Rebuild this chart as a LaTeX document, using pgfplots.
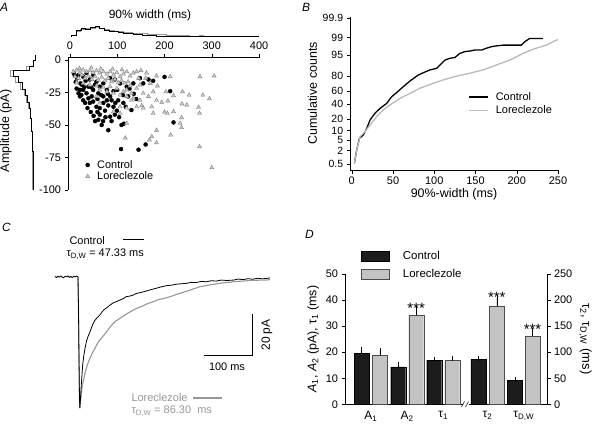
\documentclass[border=0pt]{standalone}
\usepackage{fontspec}
\setmainfont{Liberation Sans}
\usepackage{pgfplots}
\pgfplotsset{compat=1.18}
\definecolor{lgray}{RGB}{185,185,185}
\definecolor{mgray}{RGB}{150,150,150}
\definecolor{barg}{RGB}{195,195,195}
\definecolor{barb}{RGB}{28,28,28}
\definecolor{trif}{RGB}{205,205,205}
\definecolor{trie}{RGB}{130,130,130}
\pgfplotsset{every axis/.append style={scale only axis,
  /pgf/number format/assume math mode=true,
  tick style={line width=0.5pt,black}, axis line style={line width=0.6pt},
  major tick length=3.5bp,
  label style={font=\fontsize{12.5}{14}\selectfont},
  tick label style={font=\fontsize{11}{13}\selectfont}}}
\begin{document}
\begin{tikzpicture}[font=\fontsize{11}{13}\selectfont]
\useasboundingbox (0,0) rectangle (595bp,-424bp);
% ---------------- Panel A ----------------
\node[anchor=base west,inner sep=0,font=\itshape\fontsize{12}{14}\selectfont] at (0bp,-11bp) {A};
\node[font=\fontsize{12}{14}\selectfont] at (150bp,-15bp) {90\% width (ms)};
\node[rotate=90,font=\fontsize{12.5}{14}\selectfont] at (6bp,-131bp) {Amplitude (pA)};
% top histogram
\begin{axis}[at={(68.1bp,-36.7bp)}, anchor=south west, width=191.9bp, height=12bp,
  xmin=-4, xmax=402, ymin=0, ymax=12, hide axis, clip=false]
\addplot[const plot, color=mgray, line width=0.8pt] coordinates {
(3,0) (3,1.2) (13,5) (23,7.5) (33,8.5) (43,8.5) (53,9) (63,8) (73,7) (83,6.3) (93,5.8) (103,5.2) (113,4.7) (123,4.2) (133,3.8) (143,3.5) (153,3.1) (163,2.7) (173,2.5) (183,2.1) (193,1.9) (203,1.6) (213,1.4) (223,1.2) (233,1.6) (243,1) (253,0.8) (263,0.7) (273,1.2) (283,0.6) (293,0.4) (303,0.2) (313,0) (400,0)};
\addplot[const plot, black, line width=0.7pt] coordinates {
(3,0) (3,1.7) (13,6.7) (23,8.3) (33,7.7) (43,9) (53,10.7) (63,8.3) (73,6.5) (83,5.5) (93,5) (103,4.3) (113,3.8) (123,3) (133,2.5) (143,2) (153,1.6) (163,1.2) (173,1) (183,0.8) (203,0.5) (223,0.3) (243,0.1) (263,0) (400,0)};
\end{axis}
% left histogram
\begin{axis}[at={(35bp,-190bp)}, anchor=south east, width=30bp, height=133bp,
  xmin=0, xmax=30, x dir=reverse, ymin=-100, ymax=2.3, hide axis, clip=false]
\addplot[color=mgray, line width=0.8pt] coordinates {
(0,4) (0,0) (2,0) (2,-5) (9,-5) (9,-8) (25,-8) (25,-12.5) (20,-12.5) (20,-17.5) (15,-17.5) (15,-22.5) (11,-22.5) (11,-27.5) (8.5,-27.5) (8.5,-32.5) (6.5,-32.5) (6.5,-37.5) (5,-37.5) (5,-45) (4,-45) (4,-55) (3,-55) (3,-70) (2.2,-70) (2.2,-100)};
\addplot[black, line width=0.7pt] coordinates {
(0,4) (0,0) (1.5,0) (1.5,-5) (6,-5) (6,-8) (22,-8) (22,-12.5) (17,-12.5) (17,-17.5) (13,-17.5) (13,-22.5) (10,-22.5) (10,-27.5) (7.5,-27.5) (7.5,-32.5) (6,-32.5) (6,-37.5) (4.5,-37.5) (4.5,-45) (3.5,-45) (3.5,-55) (2.5,-55) (2.5,-70) (1.8,-70) (1.8,-100)};
\end{axis}
% scatter
\begin{axis}[at={(68.1bp,-190bp)}, anchor=south west, width=191.9bp, height=133bp,
  xmin=-4, xmax=402, ymin=-100, ymax=2.3,
  axis x line*=top, axis y line*=left, tick align=outside,
  xtick={0,100,200,300,400}, ytick={-100,-75,-50,-25,0},
  legend style={draw=none, fill=none, at={(0.088,0.24)}, anchor=north west,
    font=\fontsize{11}{13}\selectfont, row sep=-2bp, inner sep=0pt, cells={anchor=west}},
  legend image code/.code={\path[draw=none,fill=none] (0bp,0bp) -- (10bp,0bp);\draw[mark repeat=2,mark phase=2,#1] plot coordinates {(0bp,0bp) (2.5bp,0bp) (5bp,0bp)};},
  clip=false]
\addplot[only marks, mark=*, mark size=2bp, mark options={fill=black, draw=black}] coordinates {
(10,-12) (14,-22) (18,-25.6) (21,-28) (25,-19) (28,-31) (32,-33) (35,-25.6) (39,-20.5) (42,-33)
(46,-28) (49,-23) (53,-47) (56,-36) (60,-46) (63,-42) (63,-37) (70,-47) (70.5,-33) (78,-31)
(81,-35) (85,-43.6) (92,-36) (95,-42) (99,-39) (109,-50) (114,-49) (130,-38.5) (135,-26) (176,-16)
(200,-13) (212,-24) (219,-48) (81,-54) (108,-68.5) (145,-69) (160,-65) (21,-23) (35,-10) (60,-25.6)
(70.5,-28) (85,-28) (92,-24) (102,-31) (113,-33) (123,-28) (134,-18) (148,-14) (155,-18) (166,-15)
(120,-20.5) (106,-18) (95,-15) (85,-14) (70.5,-18) (56,-16.7) (42,-15) (28,-12.8) (18,-11.5) (49,-11.5)
(63,-20.5) (78,-23) (53,-19) (28,-23) (39,-29.5) (49,-32) (88,-31) (12,-17) (24,-27) (30,-21)
(37,-37) (44,-40) (50,-43) (58,-30) (66,-27) (74,-39) (80,-26) (88,-47) (104,-44) (118,-36)
(126,-22) (140,-30) (45,-21) (33,-16) (67,-50) (96,-33) (8,-10) (15,-14) (22,-18) (58,-40)
(75,-44) (100,-23) (112,-27)};
\addlegendentry{Control}
\addplot[only marks, mark=triangle*, mark size=2.4bp, mark options={fill=trif, draw=trie, line width=0.4pt}] coordinates {
(7,-9) (14,-7.7) (21,-10) (28,-7.7) (35,-9) (42,-8.2) (49,-9.7) (56,-8.2) (63,-10) (70.5,-9)
(78,-10.8) (85,-9) (92,-11.5) (99,-9.7) (106,-12.8) (113,-10.8) (120,-9) (127,-12.3) (10.6,-12.8) (18,-14)
(25,-11.5) (32,-14) (39,-12.3) (46,-14.9) (53,-12.8) (60,-15.4) (67,-13.3) (74,-15.9) (81,-14) (88,-16.7)
(95,-14.9) (102,-17.4) (109,-15.9) (116,-17.9) (123,-16.7) (14,-17.4) (28,-17.9) (42,-19.2) (56,-20) (70.5,-21)
(85,-20.5) (99,-21.8) (113,-24.4) (106,-27) (92,-25.6) (78,-24.4) (63,-23) (120,-28) (134,-29.5) (141,-21.8)
(148,-19.2) (127,-20) (134,-10) (141,-9) (162,-10) (183,-12.3) (212,-12.8) (275,-12.8) (305,-12.3)
(203,-24.4) (238,-24.4) (219,-27.4) (252,-27) (281,-27) (295,-29.8) (194,-32.5) (207,-31.5) (237,-33.8) (247,-34.6)
(272,-36.4) (274,-41) (200,-40) (206,-41) (219,-39.7) (236,-44.4) (233,-48.7) (236,-52) (213,-57.7) (274,-66.7)
(300,-82.8) (176,-41) (155,-37) (141,-36) (120,-37) (106,-36) (130,-31) (148,-31) (166,-28) (183,-31)
(152,-35) (173,-36) (120,-23) (130,-25.6) (155,-25.6) (176,-24.4) (120,-48.7) (183,-54) (173,-59) (168,-61.5)
(117,-60) (183,-63.6) (106,-41) (92,-39.7) (63,-33) (56,-28) (20,-6.5) (45,-6) (65,-6.8) (90,-7)
(110,-7.5) (150,-8) (160,-14) (170,-18) (185,-20) (145,-14)};
\addlegendentry{Loreclezole}
\end{axis}
% ---------------- Panel B ----------------
\node[anchor=base west,inner sep=0,font=\itshape\fontsize{12}{14}\selectfont] at (302bp,-11bp) {B};
\begin{axis}[at={(350.1bp,-170bp)}, anchor=south west, width=207.9bp, height=153bp,
  xmin=-2, xmax=250, ymin=-2.81, ymax=3.12,
  axis x line*=bottom, axis y line*=left, tick align=outside,
  xtick={0,50,100,150,200,250},
  ytick={-2.5758,-2.0537,-1.6449,-1.2816,-0.8416,-0.2533,0.2533,0.8416,1.6449,2.3263,3.0902},
  yticklabels={0.5,2,5,10,20,40,60,80,95,99,99.9},
  y tick label style={font=\fontsize{10.5}{12}\selectfont},
  xlabel={90\%-width (ms)}, ylabel={Cumulative counts},
  xlabel style={yshift=3bp}, ylabel style={yshift=-1bp},
  legend style={draw=none, fill=none, at={(0.567,0.523)}, anchor=north west,
    font=\fontsize{11}{13}\selectfont, row sep=0bp, inner sep=0pt, cells={anchor=west}},
  legend image code/.code={\path[draw=none] (0bp,0bp) -- (25bp,0bp);\draw[#1] (0bp,0bp) -- (19bp,0bp);},
  clip=false]
\addplot[black, line width=1.3pt] coordinates {
(3.2,-2.55) (6,-2.03) (9.3,-1.58) (14.1,-1.45) (18.1,-1.2) (22.2,-0.87) (28.2,-0.61) (34.3,-0.42) (42.3,-0.23) (48.4,0.03) (54.4,0.19) (62.5,0.42) (70.6,0.64) (80.6,0.87) (86.7,0.96) (94.8,1.07) (102.8,1.13) (106.9,1.26) (112.9,1.45) (119,1.52) (125,1.55) (131,1.71) (137.1,1.78) (143.1,1.8) (149.2,1.84) (157.3,1.84) (163.3,1.91) (169.4,1.97) (175.4,2.0) (183.5,2.03) (205.6,2.03) (209.7,2.16) (215.7,2.29) (231.8,2.29)};
\addlegendentry{Control}
\addplot[lgray, line width=1.3pt] coordinates {
(3.2,-2.55) (6,-2.03) (10.1,-1.52) (16.1,-1.32) (22.2,-1.07) (30.2,-0.74) (38.3,-0.48) (46.4,-0.29) (58.5,-0.03) (70.6,0.16) (82.7,0.36) (98.8,0.55) (110.9,0.68) (127,0.83) (143.1,0.94) (159.3,1.07) (175.4,1.26) (191.5,1.45) (207.6,1.71) (219.7,1.87) (235.9,2.03) (243.9,2.16) (250,2.25)};
\addlegendentry{Loreclezole}
\end{axis}
% ---------------- Panel C ----------------
\node[anchor=base west,inner sep=0,font=\itshape\fontsize{12}{14}\selectfont] at (2bp,-231bp) {C};
\begin{axis}[at={(54bp,-412.3bp)}, anchor=south west, width=216bp, height=139.4bp,
  xmin=-50, xmax=400, ymin=-66, ymax=2, hide axis, clip=false]
\addplot[mgray, line width=1.1pt] coordinates {
(0,0) (1,-15) (2,-38) (3,-58) (3.8,-64) (5,-61) (7,-57) (9,-53) (11,-51) (15,-46.5) (19.4,-42.9) (25,-39.5) (30,-37) (35.4,-34.8) (42,-31.8) (50,-29.5) (59.7,-26.7) (68,-24) (77,-21.8) (87,-20.2) (97.9,-18.5) (110,-16.8) (122,-15.3) (133,-14.3) (145,-13) (157,-12) (168,-11) (180,-10.4) (192,-9.6) (205,-8.5) (215,-7.8) (223,-7.2) (232,-6.5) (243,-5.6) (254,-4.7) (265,-4.3) (275,-3.8) (282,-3.6) (292,-3.2) (303,-2.8) (314,-2.6) (324,-2.3) (336,-2.1) (348,-1.9) (360,-1.7) (372,-1.6) (383,-1.5) (393,-1.5) (400,-1.2)};
\addplot[black, line width=0.8pt] coordinates {
(-48,0.3) (-45,-0.3) (-42,0.4) (-39,-0.1) (-36,0.5) (-33,0) (-30,-0.4) (-27,0.3) (-24,0.1) (-21,0.5) (-18,-0.2) (-15,0.3) (-12,-0.3) (-9,0.4) (-6,0) (-3,0.5) (-1,0.2) (0,0) (1,-15) (2,-38) (3,-58) (3.8,-64) (5,-60) (7,-52) (9.7,-43) (12,-38.5) (14.6,-34.8) (18,-31) (21,-29) (25,-26.7) (30,-23.5) (35,-21.2) (40,-19.8) (45.8,-18.5) (50,-17) (55,-15.8) (60,-15) (66.7,-13.7) (72,-12.8) (80,-12) (87.5,-11.2) (95,-10.5) (100,-9.6) (108,-9.3) (115,-8.8) (122,-8) (130,-7.6) (140,-7) (150,-6.3) (158,-5.8) (166,-5.3) (175,-4.7) (185,-4.2) (195,-4) (205,-3.5) (215,-3.3) (226,-3.1) (236,-2.6) (246,-2.7) (256,-2.2) (268,-2.3) (278,-1.8) (288,-2.0) (298,-1.5) (310,-1.7) (324,-1.5) (334,-1.0) (344,-1.3) (354,-0.8) (364,-1.1) (374,-0.6) (384,-0.9) (393,-0.7) (400,-0.4)};
\addplot[black, line width=0.6pt] coordinates {(262.5,-38) (362.5,-38) (362.5,-18)};
\end{axis}
\node[anchor=west] at (66bp,-241bp) {Control};
\draw[line width=1.6pt] (123bp,-239.5bp) -- (144bp,-239.5bp);
\node[anchor=west] at (63bp,-254bp) {τ\textsubscript{D,W} = 47.33 ms};
\node[anchor=west, text=mgray] at (128bp,-398bp) {Loreclezole};
\draw[line width=1.6pt, mgray] (193bp,-398bp) -- (222bp,-398bp);
\node[anchor=west, text=mgray] at (128bp,-411bp) {τ\textsubscript{D,W} = 86.30\ \ ms};
\node[rotate=90,font=\fontsize{12}{14}\selectfont] at (267bp,-335bp) {20 pA};
\node at (227bp,-367bp) {100 ms};
% ---------------- Panel D ----------------
\node[anchor=base west,inner sep=0,font=\itshape\fontsize{12}{14}\selectfont] at (305bp,-238bp) {D};
\begin{axis}[at={(345bp,-404.3bp)}, anchor=south west, width=202bp, height=130.3bp,
  xmin=345, xmax=547, ymin=0, ymax=50,
  axis x line*=bottom, axis y line*=left, tick align=outside,
  ytick={0,10,20,30,40,50},
  xtick={370.8,407,443.2,487.5,523.7},
  xticklabels={A\textsubscript{1},A\textsubscript{2},τ\textsubscript{1},τ\textsubscript{2},τ\textsubscript{D,W}},
  x tick label style={font=\fontsize{12}{14}\selectfont},
  major x tick style={draw=none},
  ylabel={\textit{A}\textsubscript{1}, \textit{A}\textsubscript{2} (pA), τ\textsubscript{1} (ms)},
  ylabel style={font=\fontsize{12.5}{14}\selectfont},
  legend style={draw=none, fill=none, at={(0.077,1.192)}, anchor=north west,
    font=\fontsize{11.5}{13}\selectfont, row sep=4bp, inner sep=0pt, cells={anchor=west}},
  clip=false]
\addlegendimage{legend image code/.code={\path[draw=none,fill=none] (0bp,0bp) -- (40bp,0bp);\draw[fill=barb, draw=black] (0bp,-5bp) rectangle (28bp,5bp);}}
\addlegendentry{Control}
\addlegendimage{legend image code/.code={\path[draw=none,fill=none] (0bp,0bp) -- (40bp,0bp);\draw[fill=barg, draw=black!70] (0bp,-5bp) rectangle (28bp,5bp);}}
\addlegendentry{Loreclezole}
\addplot[ybar, bar width=15, bar shift=0pt, fill=barb, draw=black, forget plot,
  error bars/.cd, y dir=plus, y explicit, error bar style={line width=0.6pt},
  error mark options={mark size=2.5bp, line width=0.6pt}] coordinates {
(361.7,19.6) +- (0,1.6) (398.2,14.4) +- (0,1.0) (434.2,17.0) +- (0,0.3)};
\addplot[ybar, bar width=15, bar shift=0pt, fill=barg, draw=black!70, forget plot,
  error bars/.cd, y dir=plus, y explicit, error bar style={line width=0.6pt,black},
  error mark options={mark size=2.5bp, line width=0.6pt,black}] coordinates {
(379.8,18.8) +- (0,1.9) (416.2,34.1) +- (0,2.8) (452.2,16.8) +- (0,0.9)};
\node[font=\fontsize{15}{16}\selectfont] at (axis cs:416.2,36.8) {***};
\end{axis}
\begin{axis}[at={(345bp,-404.3bp)}, anchor=south west, width=202bp, height=130.3bp,
  xmin=345, xmax=547, ymin=0, ymax=250,
  axis x line=none, axis y line*=right, tick align=outside,
  ytick={0,50,100,150,200,250},
  ylabel={τ\textsubscript{2}, τ\textsubscript{D,W} (ms)},
  ylabel style={rotate=180, font=\fontsize{13}{14}\selectfont},
  clip=false]
\addplot[ybar, bar width=15, bar shift=0pt, fill=barb, draw=black,
  error bars/.cd, y dir=plus, y explicit, error bar style={line width=0.6pt},
  error mark options={mark size=2.5bp, line width=0.6pt}] coordinates {
(478.3,86) +- (0,2) (514.8,45.5) +- (0,2)};
\addplot[ybar, bar width=15, bar shift=0pt, fill=barg, draw=black!70,
  error bars/.cd, y dir=plus, y explicit, error bar style={line width=0.6pt,black},
  error mark options={mark size=2.5bp, line width=0.6pt,black}] coordinates {
(496.8,189) +- (0,16) (532.5,131) +- (0,10)};
\node[font=\fontsize{15}{16}\selectfont] at (axis cs:496.8,206) {***};
\node[font=\fontsize{15}{16}\selectfont] at (axis cs:532.5,143) {***};
\end{axis}
\fill[white] (463bp,-401bp) rectangle (468.5bp,-407.5bp);
\draw[line width=0.5pt] (461.5bp,-407bp) -- (464.5bp,-401.5bp);
\draw[line width=0.5pt] (465.5bp,-407bp) -- (468.5bp,-401.5bp);
\end{tikzpicture}
\end{document}
